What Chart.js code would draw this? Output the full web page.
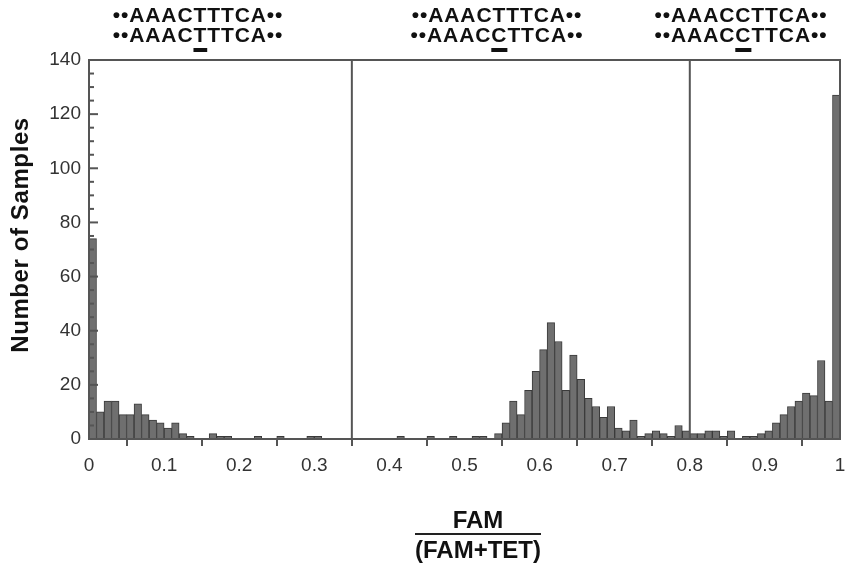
<!DOCTYPE html>
<html><head><meta charset="utf-8">
<script src="https://cdn.jsdelivr.net/npm/chart.js@4.4.1/dist/chart.umd.min.js"></script>
<style>
html,body{margin:0;padding:0;background:#fff;}
#wrap{position:relative;width:848px;height:567px;overflow:hidden;font-family:"Liberation Sans",Arial,sans-serif;color:#111;}
canvas{position:absolute;left:0;top:0;}
.seq{position:absolute;top:5px;font-weight:bold;font-size:21px;letter-spacing:0.9px;line-height:20px;white-space:nowrap;text-align:center;transform:translateX(-50%);}
.u{text-decoration:underline;text-decoration-thickness:4px;text-underline-offset:6px;text-decoration-skip-ink:none;}
#ytitle{position:absolute;left:20px;top:223px;width:320px;margin-left:-160px;text-align:center;font-weight:bold;font-size:24px;letter-spacing:0.6px;line-height:24px;transform:rotate(-90deg);white-space:nowrap;}
#xtitle{position:absolute;left:478px;top:508px;transform:translateX(-50%);font-weight:bold;font-size:24px;text-align:center;line-height:24px;}
#xtitle .num{border-bottom:2px solid #222;padding:0 2px 1px 2px;}
#xtitle .den{padding-top:3px;}
</style>
</head><body>
<div id="wrap">
<canvas id="c" width="848" height="567"></canvas>
<div class="seq" style="left:198px">••AAACTTTCA••<br>••AAAC<span class="u">T</span>TTCA••</div>
<div class="seq" style="left:497px">••AAACTTTCA••<br>••AAAC<span class="u">C</span>TTCA••</div>
<div class="seq" style="left:741px">••AAACCTTCA••<br>••AAAC<span class="u">C</span>TTCA••</div>
<div id="ytitle">Number of Samples</div>
<div id="xtitle"><div class="num">FAM</div><div class="den">(FAM+TET)</div></div>
</div>
<script>
// Histogram of FAM/(FAM+TET), bin width 0.01 from 0 to 1
const binWidth = 0.01;
const counts = [
  74,10,14,14, 9, 9,13, 9, 7, 6,
   4, 6, 2, 1, 0, 0, 2, 1, 1, 0,
   0, 0, 1, 0, 0, 1, 0, 0, 0, 1,
   1, 0, 0, 0, 0, 0, 0, 0, 0, 0,
   0, 1, 0, 0, 0, 1, 0, 0, 1, 0,
   0, 1, 1, 0, 2, 6,14, 9,18,25,
  33,43,36,18,31,22,15,12, 8,12,
   4, 3, 7, 1, 2, 3, 2, 1, 5, 3,
   2, 2, 3, 3, 1, 3, 0, 1, 1, 2,
   3, 6, 9,12,14,17,16,29,14,127
];
const dividers = [0.35, 0.8];
const xTickLabels = ['0','0.1','0.2','0.3','0.4','0.5','0.6','0.7','0.8','0.9','1'];
const yTickLabels = ['0','20','40','60','80','100','120','140'];

const binCenters = counts.map((_, i) => (i + 0.5) * binWidth);
const points = counts.map((v, i) => ({x: binCenters[i], y: v}));

const framePlugin = {
  id: 'frame',
  afterDatasetsDraw(chart) {
    const {ctx, chartArea: a, scales: {x, y}} = chart;
    ctx.save();
    ctx.strokeStyle = '#555';
    ctx.lineWidth = 2;
    for (let v = 0; v <= 140; v += 5) {
      const py = y.getPixelForValue(v);
      const len = (v % 20 === 0) ? 9 : 5;
      ctx.beginPath(); ctx.moveTo(a.left, py); ctx.lineTo(a.left + len, py); ctx.stroke();
    }
    dividers.forEach(v => {
      const px = x.getPixelForValue(v);
      ctx.beginPath(); ctx.moveTo(px, a.top); ctx.lineTo(px, a.bottom); ctx.stroke();
    });
    ctx.strokeRect(a.left, a.top, a.right - a.left, a.bottom - a.top);
    ctx.restore();
  }
};

new Chart(document.getElementById('c'), {
  type: 'bar',
  data: {
    datasets: [{
      data: points,
      backgroundColor: '#6f6f6f',
      borderColor: '#3a3a3a',
      borderWidth: 1,
      barPercentage: 1,
      categoryPercentage: 1
    }]
  },
  options: {
    responsive: false,
    animation: false,
    devicePixelRatio: 1,
    layout: {padding: {left: 0, top: 60, right: 8, bottom: 0}},
    plugins: {legend: {display: false}, tooltip: {enabled: false}},
    scales: {
      x: {
        type: 'linear', min: 0, max: 1, offset: false,
        afterFit: s => { s.height = 128; s.paddingLeft = 0; s.paddingRight = 0; },
        border: {display: false},
        grid: {display: true, drawOnChartArea: false, drawTicks: true, tickLength: 7, color: '#555', lineWidth: 2},
        ticks: {
          stepSize: 0.1, padding: 8, color: '#333', maxRotation: 0, autoSkip: false,
          font: {family: '"Liberation Sans", Arial, sans-serif', size: 19},
          callback: (v) => xTickLabels[Math.round(v * 10)]
        }
      },
      y: {
        min: 0, max: 140,
        afterFit: s => { s.width = 89; s.paddingTop = 0; s.paddingBottom = 0; },
        border: {display: false},
        grid: {display: false, drawTicks: false},
        ticks: {
          stepSize: 20, padding: 8, color: '#333',
          font: {family: '"Liberation Sans", Arial, sans-serif', size: 19},
          callback: (v) => yTickLabels[Math.round(v / 20)]
        }
      }
    }
  },
  plugins: [framePlugin]
});
</script>
</body></html>
